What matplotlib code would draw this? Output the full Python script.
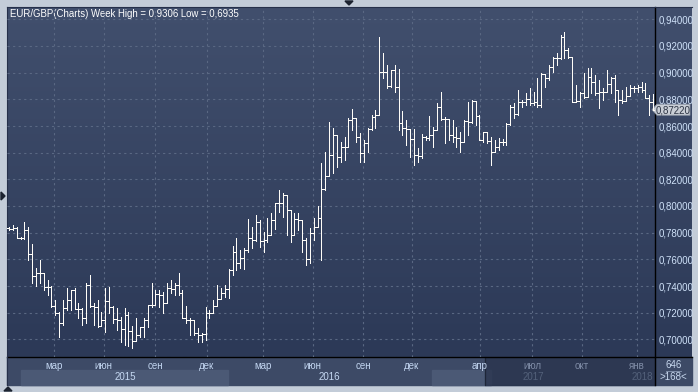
import matplotlib
matplotlib.use("Agg")
import matplotlib.pyplot as plt
import numpy as np
from matplotlib.patches import Rectangle, Polygon
from matplotlib.transforms import blended_transform_factory

# weekly EUR/GBP bars
opens = [.7835, .7828, .7838, .7762, .7760, .7822, .7640, .7475, .7495, .7495,
         .7395, .7395, .7250, .7200, .7120, .7235, .7295, .7370, .7230, .7225,
         .7160, .7405, .7250, .7245, .7100, .7145, .7290, .7245, .7150, .7145,
         .7080, .7180, .7060, .6985, .7035, .7090, .7145, .7255, .7260, .7338,
         .7330, .7275, .7383, .7375, .7408, .7345, .7160, .7145, .7145, .7045,
         .7033, .7040, .7195, .7195, .7250, .7300, .7345, .7375, .7520, .7657,
         .7570, .7608, .7670, .7758, .7745, .7883, .7738, .7745, .7783, .7895,
         .8020, .8020, .8083, .7970, .7783, .7900, .7895, .7745, .7603, .7800,
         .7840, .7908, .8125, .8225, .8383, .8533, .8370, .8445, .8445, .8645,
         .8658, .8520, .8395, .8470, .8575, .8665, .8683, .9008, .9008, .8900,
         .9020, .8895, .8625, .8583, .8575, .8500, .8383, .8375, .8515, .8508,
         .8533, .8570, .8745, .8653, .8650, .8533, .8520, .8508, .8478, .8640,
         .8633, .8788, .8678, .8495, .8553, .8490, .8408, .8445, .8483, .8478,
         .8613, .8745, .8690, .8783, .8778, .8800, .8770, .8778, .8758, .8988,
         .8958, .9045, .9108, .9108, .9270, .9170, .9120, .8783, .8790, .8845,
         .8820, .8970, .8933, .8845, .8858, .8858, .8913, .8958, .8870, .8795,
         .8788, .8828, .8883, .8883, .8895, .8870, .8813, .8783]
highs = [.7840, .7858, .7840, .7770, .7878, .7840, .7713, .7533, .7595, .7458,
         .7445, .7400, .7295, .7208, .7295, .7383, .7370, .7383, .7270, .7233,
         .7420, .7483, .7270, .7295, .7208, .7388, .7390, .7250, .7233, .7170,
         .7233, .7208, .7100, .7163, .7095, .7158, .7258, .7420, .7370, .7370,
         .7358, .7420, .7445, .7425, .7500, .7370, .7250, .7158, .7133, .7083,
         .7045, .7245, .7220, .7295, .7408, .7383, .7408, .7530, .7700, .7758,
         .7670, .7683, .7900, .7845, .7933, .7895, .7808, .7908, .7950, .8020,
         .8120, .8095, .8000, .7845, .7945, .7945, .7895, .7758, .7833, .7908,
         .8000, .8320, .8408, .8633, .8583, .8408, .8483, .8515, .8658, .8725,
         .8658, .8545, .8495, .8583, .8683, .8720, .9270, .9145, .9058, .9020,
         .9058, .9025, .8713, .8645, .8570, .8575, .8433, .8540, .8525, .8675,
         .8595, .8770, .8858, .8670, .8645, .8645, .8595, .8558, .8645, .8783,
         .8795, .8758, .8683, .8558, .8545, .8520, .8495, .8508, .8503, .8620,
         .8758, .8770, .8870, .8795, .8845, .8883, .8858, .8958, .8995, .8988,
         .9058, .9120, .9145, .9283, .9306, .9183, .9120, .8908, .8858, .8995,
         .9038, .9033, .8983, .8945, .8888, .9020, .8970, .8983, .8833, .8870,
         .8895, .8908, .8900, .8908, .8933, .8920, .8833, .8838]
lows = [.7822, .7820, .7757, .7752, .7755, .7595, .7425, .7400, .7420, .7370,
        .7333, .7245, .7183, .7015, .7108, .7220, .7220, .7225, .7158, .7108,
        .7120, .7245, .7108, .7095, .7133, .7058, .7195, .7125, .7070, .6983,
        .6958, .6948, .6935, .7020, .7020, .7020, .7095, .7245, .7258, .7245,
        .7195, .7270, .7345, .7333, .7333, .7158, .7120, .7033, .7033, .6983,
        .6983, .6995, .7158, .7200, .7270, .7333, .7320, .7308, .7483, .7520,
        .7533, .7525, .7657, .7688, .7740, .7690, .7652, .7733, .7795, .7828,
        .7958, .7920, .7783, .7733, .7780, .7820, .7657, .7558, .7570, .7745,
        .7840, .7595, .8120, .8295, .8245, .8295, .8333, .8345, .8440, .8570,
        .8483, .8333, .8333, .8408, .8570, .8583, .8683, .8958, .8883, .8890,
        .8858, .8570, .8533, .8458, .8370, .8308, .8333, .8358, .8495, .8495,
        .8445, .8583, .8645, .8470, .8495, .8483, .8445, .8403, .8478, .8533,
        .8625, .8608, .8495, .8483, .8470, .8308, .8408, .8420, .8458, .8458,
        .8608, .8658, .8683, .8745, .8758, .8758, .8758, .8745, .8745, .8895,
        .8945, .9008, .9058, .9100, .9108, .9108, .8783, .8778, .8745, .8808,
        .8815, .8845, .8833, .8733, .8795, .8858, .8845, .8783, .8683, .8770,
        .8820, .8825, .8858, .8858, .8858, .8808, .8683, .8720]
closes = opens[1:] + [.8722]

month_labels = ["мар", "июн", "сен", "дек", "мар", "июн", "сен", "дек",
                "апр", "июл", "окт", "янв"]
month_pos = [11.7, 24.6, 37.9, 51.3, 65.9, 78.8, 91.8, 104.5,
             122.1, 135.6, 148.6, 162.8]
year_labels = ["2015", "2016", "2017", "2018"]
year_pos = [30.1, 83.2, 135.9, 164.3]
y_ticks = [0.70, 0.72, 0.74, 0.76, 0.78, 0.80, 0.82, 0.84, 0.86, 0.88, 0.90, 0.92, 0.94]
last_price = 0.8722

W, H = 698, 392
L, R, T, B = 7, 655, 7, 357

plt.rcParams['font.family'] = ['Liberation Sans', 'DejaVu Sans']
fig = plt.figure(figsize=(W / 100, H / 100), dpi=100)
fig.patch.set_facecolor('#c3ccd8')

# background in pixel coordinates
bg = fig.add_axes([0, 0, 1, 1])
bg.set_xlim(0, W)
bg.set_ylim(H, 0)
bg.axis('off')
grad = np.linspace(0, 1, 256).reshape(-1, 1)
top = np.array([0x41, 0x4f, 0x6d]) / 255
bot = np.array([0x2c, 0x39, 0x57]) / 255
img = top + grad[..., None] * (bot - top)
img = np.repeat(img, 2, axis=1)
bg.imshow(img, extent=(L, 692, B, T), aspect='auto', zorder=0)
bg.add_patch(Rectangle((L, B), 692 - L, 385 - B, color='#3d4a66', zorder=1))

ax = fig.add_axes([L / W, 1 - B / H, (R - L) / W, (B - T) / H])
ax.set_facecolor('none')
ax.set_xlim(-0.5, 167.5)
ax.set_ylim(0.9545 - 0.00075 * B, 0.9545 - 0.00075 * T)

yt = blended_transform_factory(ax.transData, bg.transData)
# year bands and labels
bg.add_patch(Rectangle((3.0, 370), 56.8 - 3.0, 15, color='#4b5975', transform=yt, zorder=2))
bg.add_patch(Rectangle((109.7, 370), 125 - 109.7, 15, color='#4b5975', transform=yt, zorder=2))
for lab, p in zip(year_labels, year_pos):
    bg.text(p, 377.5, lab, transform=yt, ha='center', va='center', fontsize=7,
            color='#c5d8f2', zorder=3)
# dark scroll overlay
bg.add_patch(Rectangle((485, B), R - 485, 385 - B, color='#27324b', alpha=0.72, zorder=4))
bg.plot([485, 485], [B, 385], color='#1e2638', lw=0.8, zorder=5)

# frame lines
bg.plot([L, 692], [B, B], color='black', lw=1.0, zorder=6)
bg.plot([R, R], [T, 385], color='black', lw=1.0, zorder=6)
bg.plot([L, L], [T, 385], color='#26304a', lw=0.8, zorder=6)
bg.plot([L, 692], [T, T], color='#26304a', lw=0.8, zorder=6)

# bottom right box
bg.text(673.5, 364.5, "646", ha='center', va='center', fontsize=7, color='#c8d8ee', zorder=6)
bg.plot([666, 681], [370.5, 370.5], color='#8a9ab4', lw=0.6, zorder=6)
bg.text(673.5, 377.5, ">168<", ha='center', va='center', fontsize=7, color='#c8d8ee', zorder=6)

# small arrows on the frame
bg.add_patch(Polygon([[345, 1], [353, 1], [349, 5]], color='#1c2330', zorder=6))
bg.add_patch(Polygon([[1, 192], [1, 200], [5, 196]], color='#1c2330', zorder=6))
bg.add_patch(Polygon([[4, 391], [12, 391], [8, 387]], color='#1c2330', zorder=6))

# grid
ax.set_yticks(y_ticks)
ax.set_xticks(month_pos)
ax.grid(True, color='#5a6883', linestyle=(0, (2, 3)), lw=0.8)
for s in ax.spines.values():
    s.set_visible(False)
ax.yaxis.tick_right()
ax.set_yticklabels([f"{v:.5f}".replace('.', ',') for v in y_ticks])
ax.set_xticklabels(month_labels)
ax.tick_params(axis='y', length=0, pad=2.3, labelsize=7, labelcolor='#cfe1f8')
ax.tick_params(axis='x', length=0, pad=3.2, labelsize=7, labelcolor='#c2d5f0')
for lbl in ax.get_xticklabels()[9:]:
    lbl.set_color('#7f8ca6')

# OHLC bars
idx = np.arange(len(closes))
o = np.array(opens)
c = np.array(closes)
hi = np.maximum(np.array(highs), np.maximum(o, c))
lo = np.minimum(np.array(lows), np.minimum(o, c))
bar_col = '#fffdf8'
ax.vlines(idx, lo, hi, color=bar_col, lw=0.72, antialiased=False)
ax.hlines(o, idx - 0.5, idx, color=bar_col, lw=0.72, antialiased=False)
ax.hlines(c, idx, idx + 0.5, color=bar_col, lw=0.72, antialiased=False)

# title
bg.text(10, 13.5, "EUR/GBP(Charts) Week High = 0,9306 Low = 0,6935", ha='left',
        va='center', fontsize=6.9, color='white', zorder=7)

# last price marker
py = (0.9545 - last_price) / 0.00075
bg.add_patch(Polygon([[652, py], [657, py - 5.5], [690, py - 5.5], [690, py + 5.5], [657, py + 5.5]],
                     facecolor='#c9ced6', edgecolor='#8d96a4', lw=0.6, zorder=8))
bg.text(673.5, py + 0.3, f"{last_price:.5f}".replace('.', ','), ha='center', va='center',
        fontsize=7, color='#2c3444', zorder=9)

fig.savefig("out.png", dpi=100, facecolor=fig.get_facecolor())
